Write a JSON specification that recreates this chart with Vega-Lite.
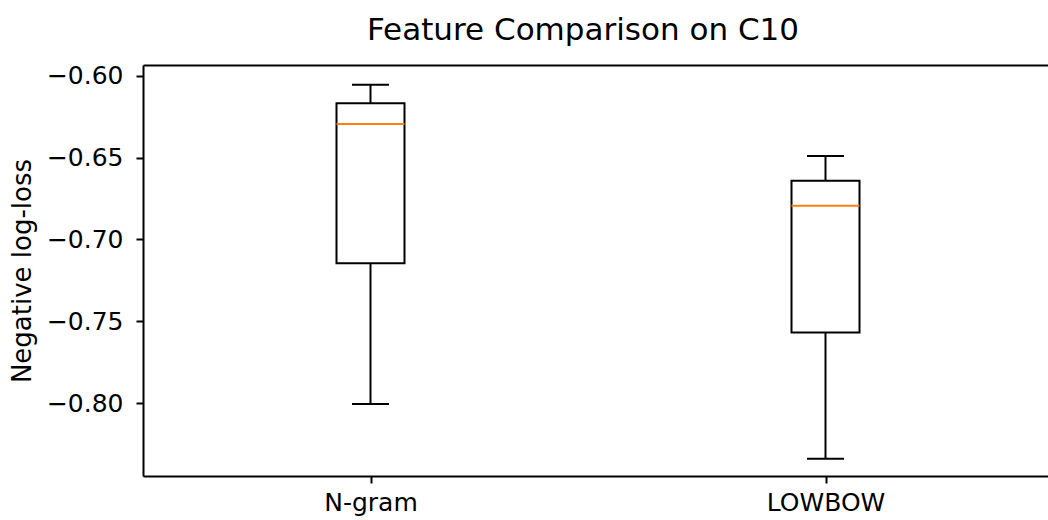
{
  "$schema": "https://vega.github.io/schema/vega-lite/v6.json",
  "width": 910,
  "height": 411,
  "autosize": {"type": "none"},
  "padding": {"left": 143, "top": 65, "right": 0, "bottom": 44},
  "title": {"text": "Feature Comparison on C10", "fontSize": 31, "font": "DejaVu Sans", "fontWeight": "normal", "color": "#000", "offset": 17, "dx": -15},
  "config": {
    "view": {"stroke": null},
    "font": "DejaVu Sans",
    "axis": {"grid": false, "domain": true, "domainColor": "#000", "domainWidth": 2, "tickColor": "#000", "tickWidth": 2, "tickSize": 7, "labelColor": "#000", "labelFontSize": 25, "labelFont": "DejaVu Sans", "titleFont": "DejaVu Sans", "titleFontSize": 26, "titleFontWeight": "normal", "titleColor": "#000"}
  },
  "resolve": {"axis": {"x": "independent"}},
  "data": {"values": [
    {"feature": "N-gram", "min": -0.8006, "q1": -0.7145, "median": -0.6295, "q3": -0.6169, "max": -0.6055},
    {"feature": "LOWBOW", "min": -0.8339, "q1": -0.7568, "median": -0.6795, "q3": -0.6642, "max": -0.6491}
  ]},
  "layer": [
    {
      "mark": {"type": "rule", "color": "#000", "strokeWidth": 2},
      "encoding": {
        "x": {"field": "feature", "type": "nominal", "sort": ["N-gram", "LOWBOW"], "scale": {"type": "point", "padding": 0.5}, "axis": {"title": null, "labelAngle": 0, "labelPadding": 7}},
        "y": {"field": "min", "type": "quantitative", "scale": {"domain": [-0.8445, -0.5935], "nice": false, "zero": false}, "axis": {"title": "Negative log-loss", "values": [-0.8, -0.75, -0.7, -0.65, -0.6], "format": ".2f", "labelExpr": "replace(datum.label, '-', '−')", "labelPadding": 13, "titlePadding": 11}},
        "y2": {"field": "q1"}
      }
    },
    {
      "mark": {"type": "rule", "color": "#000", "strokeWidth": 2},
      "encoding": {
        "x": {"field": "feature", "type": "nominal", "sort": ["N-gram", "LOWBOW"], "axis": {"orient": "top", "title": null, "labels": false, "ticks": false, "domain": true}},
        "y": {"field": "q3", "type": "quantitative"},
        "y2": {"field": "max"}
      }
    },
    {
      "mark": {"type": "bar", "size": 68, "fill": "#fff", "stroke": "#000", "strokeWidth": 2},
      "encoding": {
        "x": {"field": "feature", "type": "nominal", "sort": ["N-gram", "LOWBOW"], "axis": null},
        "y": {"field": "q1", "type": "quantitative"},
        "y2": {"field": "q3"}
      }
    },
    {
      "mark": {"type": "tick", "size": 68, "thickness": 2, "color": "#ff7f0e", "opacity": 1},
      "encoding": {
        "x": {"field": "feature", "type": "nominal", "sort": ["N-gram", "LOWBOW"], "axis": null},
        "y": {"field": "median", "type": "quantitative"}
      }
    },
    {
      "mark": {"type": "tick", "size": 37, "thickness": 2, "color": "#000", "opacity": 1},
      "encoding": {
        "x": {"field": "feature", "type": "nominal", "sort": ["N-gram", "LOWBOW"], "axis": null},
        "y": {"field": "min", "type": "quantitative"}
      }
    },
    {
      "mark": {"type": "tick", "size": 37, "thickness": 2, "color": "#000", "opacity": 1},
      "encoding": {
        "x": {"field": "feature", "type": "nominal", "sort": ["N-gram", "LOWBOW"], "axis": null},
        "y": {"field": "max", "type": "quantitative"}
      }
    }
  ]
}
